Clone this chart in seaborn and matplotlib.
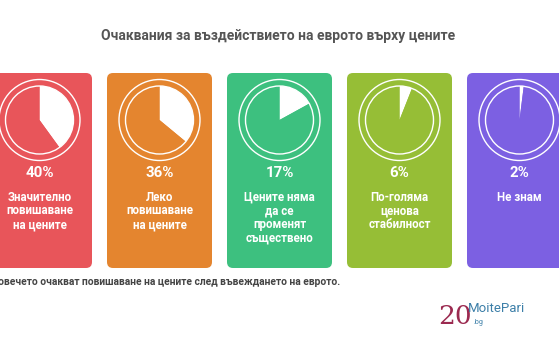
import matplotlib
matplotlib.use("Agg")
import matplotlib.pyplot as plt
from matplotlib.patches import FancyBboxPatch, Circle
import seaborn as sns

sns.set_style("white")
plt.rcParams['font.family'] = ['Roboto', 'DejaVu Sans']

title = "Очаквания за въздействието на еврото върху цените"
values = [40, 36, 17, 6, 2]
pct_labels = ["40%", "36%", "17%", "6%", "2%"]
labels = [
    "Значително\nповишаване\nна цените",
    "Леко\nповишаване\nна цените",
    "Цените няма\nда се\nпроменят\nсъществено",
    "По-голяма\nценова\nстабилност",
    "Не знам",
]
colors = ["#E8555A", "#E4852F", "#3DC07F", "#96BE36", "#7C60E2"]
footer = "Повечето очакват повишаване на цените след въвеждането на еврото."

W, H = 559, 345
fig = plt.figure(figsize=(W / 100, H / 100), dpi=100)
ax = fig.add_axes([0, 0, 1, 1])


def Y(px):
    return H - px


card_w, card_top, card_bot = 105, 73, 268
for i, (v, p, lab, c) in enumerate(zip(values, pct_labels, labels, colors)):
    x0 = -13 + 120 * i
    cx = x0 + card_w / 2
    ax.add_patch(FancyBboxPatch((x0, Y(card_bot)), card_w, card_bot - card_top,
                                boxstyle="round,pad=0,rounding_size=6",
                                facecolor=c, edgecolor="none", zorder=1))
    wedges, _ = ax.pie([v, 100 - v], colors=["white", c], startangle=90,
                       counterclock=False, radius=34, center=(cx, Y(120)),
                       frame=True, wedgeprops=dict(linewidth=0))
    for w in wedges:
        w.set_zorder(2)
    for r in (34, 40.5):
        ax.add_patch(Circle((cx, Y(120)), r, facecolor="none", edgecolor="white",
                            linewidth=1.0, zorder=3))
    ax.text(cx, Y(173), p, ha="center", va="center", color="white",
            fontsize=10.8, fontweight="bold", zorder=4)
    ax.text(cx, Y(191), lab, ha="center", va="top", color="white",
            fontsize=8.3, fontweight="bold", linespacing=1.05, zorder=4)

ax.text(W / 2 - 1, Y(36), title, ha="center", va="center", color="#555555",
        fontsize=10, fontweight="bold")
ax.text(-9, Y(282), footer, ha="left", va="center", color="#444444",
        fontsize=7.4, fontweight="bold")

# logo
ax.text(438, Y(316), "20", ha="left", va="center", color="#9B2A50",
        fontsize=19, family="DejaVu Serif")
ax.text(468, Y(308), "MoitePari", ha="left", va="center", color="#3C7FA8",
        fontsize=9.5)
ax.text(474, Y(323), ".bg", ha="left", va="center", color="#3C7FA8",
        fontsize=5)

ax.set_xlim(0, W)
ax.set_ylim(0, H)
ax.set_aspect("auto")
ax.axis("off")
fig.savefig("out.png", dpi=100, facecolor="white")
